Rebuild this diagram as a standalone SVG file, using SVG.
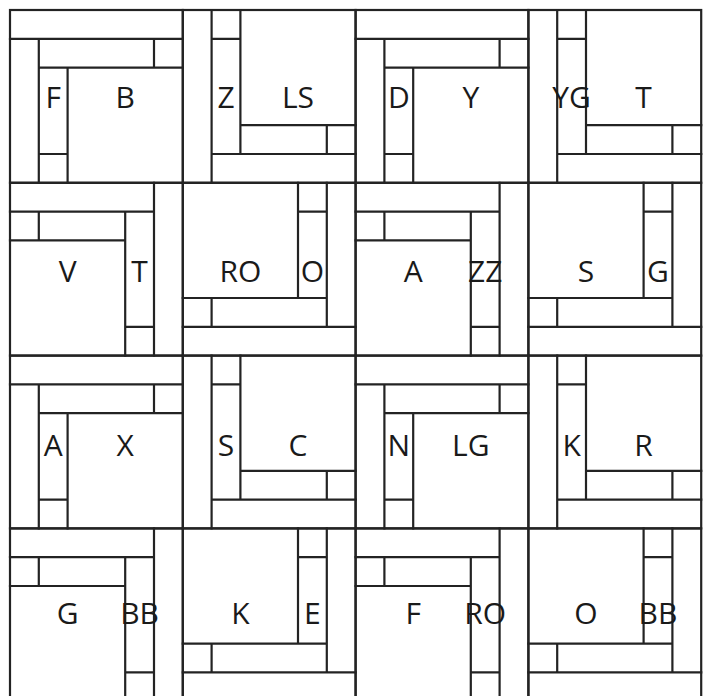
<svg xmlns="http://www.w3.org/2000/svg" xmlns:xlink="http://www.w3.org/1999/xlink" width="709" height="696" viewBox="0 0 709 696">
<style>
.ln{fill:none;stroke:#232323;stroke-width:2.2;stroke-linecap:square}
.lb{font-family:"Open Sans","Noto Sans","DejaVu Sans",sans-serif;font-size:30px;fill:#1a1a1a;text-anchor:middle}
</style>
<defs>
<g id="pat">
<rect class="ln" x="0" y="0" width="172.8" height="172.8"/>
<path class="ln" d="M0 28.8H172.8M28.8 28.8V172.8M28.8 57.6H172.8M57.6 57.6V172.8M144 28.8V57.6M28.8 144H57.6"/>
</g>
</defs>
<rect x="0" y="0" width="709" height="696" fill="#fff"/>
<g id="cells">
<!-- row 0 -->
<g id="c00"><use xlink:href="#pat" href="#pat" transform="translate(10,10)"/><text class="lb" x="53.2" y="107.5">F</text><text class="lb" x="125.2" y="107.5">B</text></g>
<g id="c01"><use xlink:href="#pat" href="#pat" transform="matrix(0,-1,1,0,182.8,182.8)"/><text class="lb" x="226" y="107.5">Z</text><text class="lb" x="298" y="107.5">LS</text></g>
<g id="c02"><use xlink:href="#pat" href="#pat" transform="translate(355.6,10)"/><text class="lb" x="398.8" y="107.5">D</text><text class="lb" x="470.8" y="107.5">Y</text></g>
<g id="c03"><use xlink:href="#pat" href="#pat" transform="matrix(0,-1,1,0,528.4,182.8)"/><text class="lb" x="571.6" y="107.5">YG</text><text class="lb" x="643.6" y="107.5">T</text></g>
<!-- row 1 -->
<g id="c10"><use xlink:href="#pat" href="#pat" transform="matrix(0,1,-1,0,182.8,182.8)"/><text class="lb" x="67.6" y="281.5">V</text><text class="lb" x="139.6" y="281.5">T</text></g>
<g id="c11"><use xlink:href="#pat" href="#pat" transform="matrix(-1,0,0,-1,355.6,355.6)"/><text class="lb" x="240.4" y="281.5">RO</text><text class="lb" x="312.4" y="281.5">O</text></g>
<g id="c12"><use xlink:href="#pat" href="#pat" transform="matrix(0,1,-1,0,528.4,182.8)"/><text class="lb" x="413.2" y="281.5">A</text><text class="lb" x="485.2" y="281.5">ZZ</text></g>
<g id="c13"><use xlink:href="#pat" href="#pat" transform="matrix(-1,0,0,-1,701.2,355.6)"/><text class="lb" x="586" y="281.5">S</text><text class="lb" x="658" y="281.5">G</text></g>
<!-- row 2 -->
<g id="c20"><use xlink:href="#pat" href="#pat" transform="translate(10,355.6)"/><text class="lb" x="53.2" y="455.5">A</text><text class="lb" x="125.2" y="455.5">X</text></g>
<g id="c21"><use xlink:href="#pat" href="#pat" transform="matrix(0,-1,1,0,182.8,528.4)"/><text class="lb" x="226" y="455.5">S</text><text class="lb" x="298" y="455.5">C</text></g>
<g id="c22"><use xlink:href="#pat" href="#pat" transform="translate(355.6,355.6)"/><text class="lb" x="398.8" y="455.5">N</text><text class="lb" x="470.8" y="455.5">LG</text></g>
<g id="c23"><use xlink:href="#pat" href="#pat" transform="matrix(0,-1,1,0,528.4,528.4)"/><text class="lb" x="571.6" y="455.5">K</text><text class="lb" x="643.6" y="455.5">R</text></g>
<!-- row 3 -->
<g id="c30"><use xlink:href="#pat" href="#pat" transform="matrix(0,1,-1,0,182.8,528.4)"/><text class="lb" x="67.6" y="623.5">G</text><text class="lb" x="139.6" y="623.5">BB</text></g>
<g id="c31"><use xlink:href="#pat" href="#pat" transform="matrix(-1,0,0,-1,355.6,701.2)"/><text class="lb" x="240.4" y="623.5">K</text><text class="lb" x="312.4" y="623.5">E</text></g>
<g id="c32"><use xlink:href="#pat" href="#pat" transform="matrix(0,1,-1,0,528.4,528.4)"/><text class="lb" x="413.2" y="623.5">F</text><text class="lb" x="485.2" y="623.5">RO</text></g>
<g id="c33"><use xlink:href="#pat" href="#pat" transform="matrix(-1,0,0,-1,701.2,701.2)"/><text class="lb" x="586" y="623.5">O</text><text class="lb" x="658" y="623.5">BB</text></g>
</g>
<g id="connectors"/>
</svg>
